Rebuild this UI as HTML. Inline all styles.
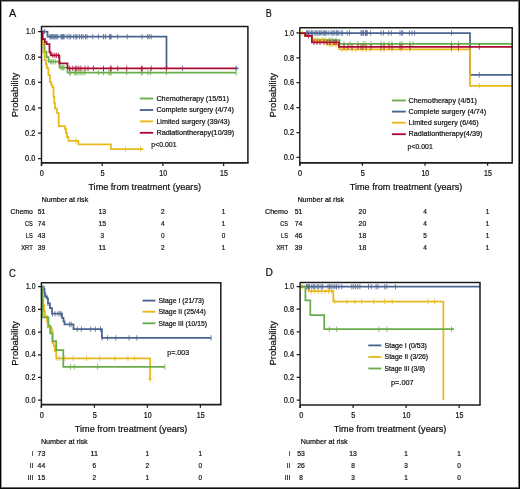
<!DOCTYPE html>
<html><head><meta charset="utf-8"><style>
html,body{margin:0;padding:0;background:#fff;}
svg{display:block;font-family:"Liberation Sans",sans-serif;will-change:transform;}
text{stroke:#111;stroke-width:0.22px;}
</style></head><body>
<svg width="520" height="489" viewBox="0 0 520 489">
<rect width="520" height="489" fill="#fff"/>
<rect x="1" y="0" width="1" height="489" fill="#9c9c9c"/>
<rect x="518" y="0" width="1" height="489" fill="#777"/>
<rect x="0" y="1" width="520" height="1" fill="#949494"/>
<rect x="0" y="487" width="520" height="1" fill="#6a6a6a"/>
<rect x="0" y="0" width="1" height="489" fill="#000"/>
<rect x="519" y="0" width="1" height="489" fill="#000"/>
<rect x="0" y="0" width="520" height="1" fill="#1f1f1f"/>
<rect x="0" y="488" width="520" height="1" fill="#0d0d0d"/>
<path d="M41.5,31.6H47.5V36.7H166.5V68.4M235.5,68.4H238.5" fill="none" stroke="#4a6491" stroke-width="1.75" stroke-linejoin="miter"/>
<path d="M44.5,28.90V34.30M49.8,34.00V39.40M50.8,34.00V39.40M51.8,34.00V39.40M52.8,34.00V39.40M53.8,34.00V39.40M54.8,34.00V39.40M55.8,34.00V39.40M56.8,34.00V39.40M57.8,34.00V39.40M61,34.00V39.40M61.8,34.00V39.40M62.6,34.00V39.40M63.4,34.00V39.40M64.2,34.00V39.40M67.1,34.00V39.40M69.1,34.00V39.40M70.7,34.00V39.40M73.7,34.00V39.40M75.8,34.00V39.40M76.8,34.00V39.40M79.4,34.00V39.40M81.4,34.00V39.40M83,34.00V39.40M85.5,34.00V39.40M87,34.00V39.40M92.8,34.00V39.40M98.4,34.00V39.40M103.5,34.00V39.40M105.4,34.00V39.40M109.5,34.00V39.40M110.3,34.00V39.40M111.1,34.00V39.40M117.7,34.00V39.40M127.2,34.00V39.40M141.9,34.00V39.40M147.6,34.00V39.40M149.2,34.00V39.40M151.2,34.00V39.40M182.5,65.70V71.10M236.2,65.70V71.10" stroke="#4a6491" stroke-width="0.8" fill="none"/>
<path d="M41.5,31.6H42.6V39.2H44.5V51.6H46.5V57H48.5V61.7H59.5V67.6H67.5V72.7H236.2" fill="none" stroke="#69ad4a" stroke-width="1.75" stroke-linejoin="miter"/>
<path d="M50.2,59.00V64.40M51.8,59.00V64.40M53.3,59.00V64.40M55.3,59.00V64.40M61,64.90V70.30M62,64.90V70.30M63,64.90V70.30M64,64.90V70.30M69.6,70.00V75.40M70.7,70.00V75.40M74.8,70.00V75.40M75.8,70.00V75.40M76.8,70.00V75.40M78.9,70.00V75.40M80.9,70.00V75.40M83,70.00V75.40M85,70.00V75.40M98.4,70.00V75.40M103.5,70.00V75.40M108.7,70.00V75.40M110.3,70.00V75.40M111.1,70.00V75.40M126.7,70.00V75.40M141.4,70.00V75.40M142.2,70.00V75.40M147.9,70.00V75.40M150.4,70.00V75.40M166.4,70.00V75.40M236.2,70.00V75.40" stroke="#69ad4a" stroke-width="0.8" fill="none"/>
<path d="M41.5,31.6H42.2V38H42.8V44H43.4V52.3H44.6V60H45.8V64H46.9V68H48.4V75H49.9V82H51.3V85H52.5V87H53.5V96.8H54.3V103H55V108.5H57V113H58.7V126.1H65V129H66V133H67V137H68.5V140.9H78.3V144.3H111V149H143.3" fill="none" stroke="#e8b919" stroke-width="1.75" stroke-linejoin="miter"/>
<path d="M76,138.20V143.60M125.6,146.30V151.70M140.6,146.30V151.70" stroke="#e8b919" stroke-width="0.8" fill="none"/>
<path d="M41.5,31.6H42.6V39.2H44.9V42.1H46.6V44.1H49.5V52.3H50.8V55.4H59.4V63.3H67.5V68.4H236.2" fill="none" stroke="#a90a31" stroke-width="1.75" stroke-linejoin="miter"/>
<path d="M52.8,52.70V58.10M54.8,52.70V58.10M56.4,52.70V58.10M58.4,52.70V58.10M69.7,65.70V71.10M72.7,65.70V71.10M75.3,65.70V71.10M76.8,65.70V71.10M78.9,65.70V71.10M80.9,65.70V71.10M85,65.70V71.10M88,65.70V71.10M93.5,65.70V71.10M103.5,65.70V71.10M110.3,65.70V71.10M111.1,65.70V71.10M117.7,65.70V71.10M126.7,65.70V71.10M141.4,65.70V71.10M142.2,65.70V71.10M151.2,65.70V71.10M166.4,65.70V71.10" stroke="#a90a31" stroke-width="0.8" fill="none"/>
<text x="8.9" y="17.2" font-size="11.8" text-anchor="start" fill="#111" textLength="7.2" lengthAdjust="spacingAndGlyphs">A</text>
<path d="M41.5,26.5H247.9V162.9" fill="none" stroke="#1c1c1c" stroke-width="1.5"/>
<path d="M41.5,25.9V165.9" fill="none" stroke="#1c1c1c" stroke-width="1.45"/>
<path d="M41.5,162.9H248.6" fill="none" stroke="#1c1c1c" stroke-width="1.7"/>
<text x="35.3" y="161.3" font-size="8.3" text-anchor="end" fill="#111" textLength="10.2" lengthAdjust="spacingAndGlyphs">0.0</text>
<text x="35.3" y="135.9" font-size="8.3" text-anchor="end" fill="#111" textLength="10.2" lengthAdjust="spacingAndGlyphs">0.2</text>
<text x="35.3" y="110.5" font-size="8.3" text-anchor="end" fill="#111" textLength="10.2" lengthAdjust="spacingAndGlyphs">0.4</text>
<text x="35.3" y="85.1" font-size="8.3" text-anchor="end" fill="#111" textLength="10.2" lengthAdjust="spacingAndGlyphs">0.6</text>
<text x="35.3" y="59.7" font-size="8.3" text-anchor="end" fill="#111" textLength="10.2" lengthAdjust="spacingAndGlyphs">0.8</text>
<text x="35.3" y="34.3" font-size="8.3" text-anchor="end" fill="#111" textLength="9.4" lengthAdjust="spacingAndGlyphs">1.0</text>
<text x="41.8" y="176.15" font-size="8.3" text-anchor="middle" fill="#111" textLength="4.1" lengthAdjust="spacingAndGlyphs">0</text>
<text x="102.5" y="176.15" font-size="8.3" text-anchor="middle" fill="#111" textLength="4.1" lengthAdjust="spacingAndGlyphs">5</text>
<text x="163.2" y="176.15" font-size="8.3" text-anchor="middle" fill="#111" textLength="7.8" lengthAdjust="spacingAndGlyphs">10</text>
<text x="223.9" y="176.15" font-size="8.3" text-anchor="middle" fill="#111" textLength="7.8" lengthAdjust="spacingAndGlyphs">15</text>
<path d="M38.1,158.60H41.5M38.1,133.20H41.5M38.1,107.80H41.5M38.1,82.40H41.5M38.1,57.00H41.5M38.1,31.60H41.5M41.50,162.9V165.9M102.20,162.9V165.9M162.90,162.9V165.9M223.60,162.9V165.9" stroke="#1c1c1c" stroke-width="1.25" fill="none"/>
<text transform="translate(18.0,95.1) rotate(-90)" font-size="9.6" text-anchor="middle" fill="#111" textLength="44.5" lengthAdjust="spacingAndGlyphs">Probability</text>
<text x="144.7" y="189.9" font-size="9.3" text-anchor="middle" fill="#111" textLength="112.6" lengthAdjust="spacingAndGlyphs">Time from treatment (years)</text>
<text x="41.5" y="202.2" font-size="7.6" text-anchor="start" fill="#111" textLength="46.8" lengthAdjust="spacingAndGlyphs">Number at risk</text>
<text x="32.8" y="214.0" font-size="7.6" text-anchor="end" fill="#111" textLength="22.2" lengthAdjust="spacingAndGlyphs">Chemo</text>
<text x="41.5" y="214.0" font-size="7.6" text-anchor="middle" fill="#111" textLength="7.6" lengthAdjust="spacingAndGlyphs">51</text>
<text x="102.2" y="214.0" font-size="7.6" text-anchor="middle" fill="#111" textLength="7.6" lengthAdjust="spacingAndGlyphs">13</text>
<text x="162.9" y="214.0" font-size="7.6" text-anchor="middle" fill="#111" textLength="3.6" lengthAdjust="spacingAndGlyphs">2</text>
<text x="223.6" y="214.0" font-size="7.6" text-anchor="middle" fill="#111" textLength="3.6" lengthAdjust="spacingAndGlyphs">1</text>
<text x="32.8" y="225.9" font-size="7.6" text-anchor="end" fill="#111" textLength="7.8" lengthAdjust="spacingAndGlyphs">CS</text>
<text x="41.5" y="225.9" font-size="7.6" text-anchor="middle" fill="#111" textLength="7.6" lengthAdjust="spacingAndGlyphs">74</text>
<text x="102.2" y="225.9" font-size="7.6" text-anchor="middle" fill="#111" textLength="7.6" lengthAdjust="spacingAndGlyphs">15</text>
<text x="162.9" y="225.9" font-size="7.6" text-anchor="middle" fill="#111" textLength="3.6" lengthAdjust="spacingAndGlyphs">4</text>
<text x="223.6" y="225.9" font-size="7.6" text-anchor="middle" fill="#111" textLength="3.6" lengthAdjust="spacingAndGlyphs">1</text>
<text x="32.8" y="237.9" font-size="7.6" text-anchor="end" fill="#111" textLength="7.0" lengthAdjust="spacingAndGlyphs">LS</text>
<text x="41.5" y="237.9" font-size="7.6" text-anchor="middle" fill="#111" textLength="7.6" lengthAdjust="spacingAndGlyphs">43</text>
<text x="102.2" y="237.9" font-size="7.6" text-anchor="middle" fill="#111" textLength="3.6" lengthAdjust="spacingAndGlyphs">3</text>
<text x="162.9" y="237.9" font-size="7.6" text-anchor="middle" fill="#111" textLength="3.6" lengthAdjust="spacingAndGlyphs">0</text>
<text x="223.6" y="237.9" font-size="7.6" text-anchor="middle" fill="#111" textLength="3.6" lengthAdjust="spacingAndGlyphs">0</text>
<text x="32.8" y="249.8" font-size="7.6" text-anchor="end" fill="#111" textLength="11.6" lengthAdjust="spacingAndGlyphs">XRT</text>
<text x="41.5" y="249.8" font-size="7.6" text-anchor="middle" fill="#111" textLength="7.6" lengthAdjust="spacingAndGlyphs">39</text>
<text x="102.2" y="249.8" font-size="7.6" text-anchor="middle" fill="#111" textLength="7.6" lengthAdjust="spacingAndGlyphs">11</text>
<text x="162.9" y="249.8" font-size="7.6" text-anchor="middle" fill="#111" textLength="3.6" lengthAdjust="spacingAndGlyphs">2</text>
<text x="223.6" y="249.8" font-size="7.6" text-anchor="middle" fill="#111" textLength="3.6" lengthAdjust="spacingAndGlyphs">1</text>
<path d="M139.8,98.5H153.2" stroke="#69ad4a" stroke-width="1.85"/>
<text x="156.4" y="100.7" font-size="7.6" text-anchor="start" fill="#111" textLength="72.4" lengthAdjust="spacingAndGlyphs">Chemotherapy (15/51)</text>
<path d="M139.8,110.0H153.2" stroke="#4a6491" stroke-width="1.85"/>
<text x="156.4" y="112.2" font-size="7.6" text-anchor="start" fill="#111" textLength="77.6" lengthAdjust="spacingAndGlyphs">Complete surgery (4/74)</text>
<path d="M139.8,121.4H153.2" stroke="#e8b919" stroke-width="1.85"/>
<text x="156.4" y="123.6" font-size="7.6" text-anchor="start" fill="#111" textLength="73.6" lengthAdjust="spacingAndGlyphs">Limited surgery (39/43)</text>
<path d="M139.8,132.8H153.2" stroke="#a90a31" stroke-width="1.85"/>
<text x="156.4" y="135.0" font-size="7.6" text-anchor="start" fill="#111" textLength="77.8" lengthAdjust="spacingAndGlyphs">Radiationtherapy(10/39)</text>
<text x="151.3" y="147.2" font-size="8.0" text-anchor="start" fill="#111" textLength="25.2" lengthAdjust="spacingAndGlyphs">p&lt;0.001</text>
<path d="M299.8,33.0H470V74.8H512.2" fill="none" stroke="#4a6491" stroke-width="1.75" stroke-linejoin="miter"/>
<path d="M306.5,30.30V35.70M307.5,30.30V35.70M308.8,30.30V35.70M310,30.30V35.70M311.5,30.30V35.70M312.6,30.30V35.70M314.2,30.30V35.70M315.7,30.30V35.70M316.8,30.30V35.70M318,30.30V35.70M319.5,30.30V35.70M320.8,30.30V35.70M321.8,30.30V35.70M323.4,30.30V35.70M324.5,30.30V35.70M325.7,30.30V35.70M326.9,30.30V35.70M328.8,30.30V35.70M331.1,30.30V35.70M332.2,30.30V35.70M333.7,30.30V35.70M334.9,30.30V35.70M336.5,30.30V35.70M337.7,30.30V35.70M338.8,30.30V35.70M341.1,30.30V35.70M342.6,30.30V35.70M347.2,30.30V35.70M349.5,30.30V35.70M361.8,30.30V35.70M363.4,30.30V35.70M365.7,30.30V35.70M366.9,30.30V35.70M361,30.30V35.70M362.8,30.30V35.70M365.4,30.30V35.70M366.2,30.30V35.70M367.1,30.30V35.70M370.6,30.30V35.70M381,30.30V35.70M383.5,30.30V35.70M388.7,30.30V35.70M391.3,30.30V35.70M400,30.30V35.70M401.7,30.30V35.70M402.6,30.30V35.70M409.5,30.30V35.70M412.1,30.30V35.70M414.7,30.30V35.70M451.5,30.30V35.70M479.3,72.10V77.50" stroke="#4a6491" stroke-width="0.8" fill="none"/>
<path d="M299.8,33.0H305.1V35.8H311.9V40.2H339.5V43.8H512.2" fill="none" stroke="#69ad4a" stroke-width="1.75" stroke-linejoin="miter"/>
<path d="M315,37.50V42.90M318,37.50V42.90M322,37.50V42.90M325,37.50V42.90M329,37.50V42.90M331,37.50V42.90M333,37.50V42.90M336,37.50V42.90M344,41.10V46.50M350,41.10V46.50M358,41.10V46.50M363,41.10V46.50M365,41.10V46.50M371,41.10V46.50M381,41.10V46.50M384,41.10V46.50M389,41.10V46.50M392,41.10V46.50M400,41.10V46.50M402,41.10V46.50M410,41.10V46.50M413,41.10V46.50M451.5,41.10V46.50M458.5,41.10V46.50" stroke="#69ad4a" stroke-width="0.8" fill="none"/>
<path d="M299.8,33.0H305.1V35.8H311.9V40.4H326.8V44.5H339.2V49.3H470V85.8H512.2" fill="none" stroke="#e8b919" stroke-width="1.75" stroke-linejoin="miter"/>
<path d="M302.4,30.30V35.70M314,37.70V43.10M317,37.70V43.10M320,37.70V43.10M323,37.70V43.10M326,37.70V43.10M330,41.80V47.20M333,41.80V47.20M336,41.80V47.20M342,46.60V52.00M346,46.60V52.00M352,46.60V52.00M356,46.60V52.00M362,46.60V52.00M366,46.60V52.00M370,46.60V52.00M381,46.60V52.00M384,46.60V52.00M392,46.60V52.00M401,46.60V52.00M410,46.60V52.00M451.5,46.60V52.00M458.5,46.60V52.00M479.3,83.10V88.50" stroke="#e8b919" stroke-width="0.8" fill="none"/>
<path d="M299.8,33.0H305.1V35.8H311.9V42.3H339.0V46.9H512.2" fill="none" stroke="#a90a31" stroke-width="1.75" stroke-linejoin="miter"/>
<path d="M308.5,33.10V38.50M314,39.60V45.00M317,39.60V45.00M320,39.60V45.00M324,39.60V45.00M327,39.60V45.00M330,39.60V45.00M334,39.60V45.00M336,39.60V45.00M344,44.20V49.60M348,44.20V49.60M352,44.20V49.60M358,44.20V49.60M361,44.20V49.60M363,44.20V49.60M366,44.20V49.60M371,44.20V49.60M381,44.20V49.60M384,44.20V49.60M389,44.20V49.60M392,44.20V49.60M400,44.20V49.60M402,44.20V49.60M410,44.20V49.60M451.5,44.20V49.60M458.5,44.20V49.60M479.3,44.20V49.60" stroke="#a90a31" stroke-width="0.8" fill="none"/>
<text x="265.8" y="17.2" font-size="11.8" text-anchor="start" fill="#111" textLength="6.0" lengthAdjust="spacingAndGlyphs">B</text>
<path d="M299.8,27.8H512.2V162.8" fill="none" stroke="#1c1c1c" stroke-width="1.5"/>
<path d="M299.8,27.2V165.8" fill="none" stroke="#1c1c1c" stroke-width="1.45"/>
<path d="M299.8,162.8H512.9000000000001" fill="none" stroke="#1c1c1c" stroke-width="1.7"/>
<text x="294.0" y="160.1" font-size="8.3" text-anchor="end" fill="#111" textLength="10.2" lengthAdjust="spacingAndGlyphs">0.0</text>
<text x="294.0" y="135.2" font-size="8.3" text-anchor="end" fill="#111" textLength="10.2" lengthAdjust="spacingAndGlyphs">0.2</text>
<text x="294.0" y="110.3" font-size="8.3" text-anchor="end" fill="#111" textLength="10.2" lengthAdjust="spacingAndGlyphs">0.4</text>
<text x="294.0" y="85.4" font-size="8.3" text-anchor="end" fill="#111" textLength="10.2" lengthAdjust="spacingAndGlyphs">0.6</text>
<text x="294.0" y="60.5" font-size="8.3" text-anchor="end" fill="#111" textLength="10.2" lengthAdjust="spacingAndGlyphs">0.8</text>
<text x="294.0" y="35.6" font-size="8.3" text-anchor="end" fill="#111" textLength="9.4" lengthAdjust="spacingAndGlyphs">1.0</text>
<text x="300.1" y="176.05" font-size="8.3" text-anchor="middle" fill="#111" textLength="4.1" lengthAdjust="spacingAndGlyphs">0</text>
<text x="362.7" y="176.05" font-size="8.3" text-anchor="middle" fill="#111" textLength="4.1" lengthAdjust="spacingAndGlyphs">5</text>
<text x="425.3" y="176.05" font-size="8.3" text-anchor="middle" fill="#111" textLength="7.8" lengthAdjust="spacingAndGlyphs">10</text>
<text x="487.9" y="176.05" font-size="8.3" text-anchor="middle" fill="#111" textLength="7.8" lengthAdjust="spacingAndGlyphs">15</text>
<path d="M296.40000000000003,157.40H299.8M296.40000000000003,132.50H299.8M296.40000000000003,107.60H299.8M296.40000000000003,82.70H299.8M296.40000000000003,57.80H299.8M296.40000000000003,32.90H299.8M299.80,162.8V165.8M362.40,162.8V165.8M425.00,162.8V165.8M487.60,162.8V165.8" stroke="#1c1c1c" stroke-width="1.25" fill="none"/>
<text transform="translate(276.3,95.2) rotate(-90)" font-size="9.6" text-anchor="middle" fill="#111" textLength="44.5" lengthAdjust="spacingAndGlyphs">Probability</text>
<text x="406.0" y="189.8" font-size="9.3" text-anchor="middle" fill="#111" textLength="112.6" lengthAdjust="spacingAndGlyphs">Time from treatment (years)</text>
<text x="297.4" y="202.2" font-size="7.6" text-anchor="start" fill="#111" textLength="46.8" lengthAdjust="spacingAndGlyphs">Number at risk</text>
<text x="288.0" y="214.4" font-size="7.6" text-anchor="end" fill="#111" textLength="23.0" lengthAdjust="spacingAndGlyphs">Chemo</text>
<text x="298.6" y="214.4" font-size="7.6" text-anchor="middle" fill="#111" textLength="7.6" lengthAdjust="spacingAndGlyphs">51</text>
<text x="362.4" y="214.4" font-size="7.6" text-anchor="middle" fill="#111" textLength="7.6" lengthAdjust="spacingAndGlyphs">20</text>
<text x="425.0" y="214.4" font-size="7.6" text-anchor="middle" fill="#111" textLength="3.6" lengthAdjust="spacingAndGlyphs">4</text>
<text x="487.6" y="214.4" font-size="7.6" text-anchor="middle" fill="#111" textLength="3.6" lengthAdjust="spacingAndGlyphs">1</text>
<text x="288.0" y="226.3" font-size="7.6" text-anchor="end" fill="#111" textLength="7.8" lengthAdjust="spacingAndGlyphs">CS</text>
<text x="298.6" y="226.3" font-size="7.6" text-anchor="middle" fill="#111" textLength="7.6" lengthAdjust="spacingAndGlyphs">74</text>
<text x="362.4" y="226.3" font-size="7.6" text-anchor="middle" fill="#111" textLength="7.6" lengthAdjust="spacingAndGlyphs">20</text>
<text x="425.0" y="226.3" font-size="7.6" text-anchor="middle" fill="#111" textLength="3.6" lengthAdjust="spacingAndGlyphs">4</text>
<text x="487.6" y="226.3" font-size="7.6" text-anchor="middle" fill="#111" textLength="3.6" lengthAdjust="spacingAndGlyphs">1</text>
<text x="288.0" y="238.3" font-size="7.6" text-anchor="end" fill="#111" textLength="7.0" lengthAdjust="spacingAndGlyphs">LS</text>
<text x="298.6" y="238.3" font-size="7.6" text-anchor="middle" fill="#111" textLength="7.6" lengthAdjust="spacingAndGlyphs">46</text>
<text x="362.4" y="238.3" font-size="7.6" text-anchor="middle" fill="#111" textLength="7.6" lengthAdjust="spacingAndGlyphs">18</text>
<text x="425.0" y="238.3" font-size="7.6" text-anchor="middle" fill="#111" textLength="3.6" lengthAdjust="spacingAndGlyphs">5</text>
<text x="487.6" y="238.3" font-size="7.6" text-anchor="middle" fill="#111" textLength="3.6" lengthAdjust="spacingAndGlyphs">1</text>
<text x="288.0" y="250.2" font-size="7.6" text-anchor="end" fill="#111" textLength="11.6" lengthAdjust="spacingAndGlyphs">XRT</text>
<text x="298.6" y="250.2" font-size="7.6" text-anchor="middle" fill="#111" textLength="7.6" lengthAdjust="spacingAndGlyphs">39</text>
<text x="362.4" y="250.2" font-size="7.6" text-anchor="middle" fill="#111" textLength="7.6" lengthAdjust="spacingAndGlyphs">18</text>
<text x="425.0" y="250.2" font-size="7.6" text-anchor="middle" fill="#111" textLength="3.6" lengthAdjust="spacingAndGlyphs">4</text>
<text x="487.6" y="250.2" font-size="7.6" text-anchor="middle" fill="#111" textLength="3.6" lengthAdjust="spacingAndGlyphs">1</text>
<path d="M391.9,100.5H405.8" stroke="#69ad4a" stroke-width="1.85"/>
<text x="408.6" y="102.7" font-size="7.6" text-anchor="start" fill="#111" textLength="68.3" lengthAdjust="spacingAndGlyphs">Chemotherapy (4/51)</text>
<path d="M391.9,111.6H405.8" stroke="#4a6491" stroke-width="1.85"/>
<text x="408.6" y="113.8" font-size="7.6" text-anchor="start" fill="#111" textLength="77.6" lengthAdjust="spacingAndGlyphs">Complete surgery (4/74)</text>
<path d="M391.9,122.7H405.8" stroke="#e8b919" stroke-width="1.85"/>
<text x="408.6" y="124.9" font-size="7.6" text-anchor="start" fill="#111" textLength="70.0" lengthAdjust="spacingAndGlyphs">Limited surgery (6/46)</text>
<path d="M391.9,134.2H405.8" stroke="#a90a31" stroke-width="1.85"/>
<text x="408.6" y="136.4" font-size="7.6" text-anchor="start" fill="#111" textLength="73.8" lengthAdjust="spacingAndGlyphs">Radiationtherapy(4/39)</text>
<text x="407.6" y="148.5" font-size="8.0" text-anchor="start" fill="#111" textLength="25.2" lengthAdjust="spacingAndGlyphs">p&lt;0.001</text>
<path d="M41.4,286.7H43.5V289H44.5V293H45V296.3H47V298.3H48V303.4H50V308H52V313.7H62V317.8H63.5V321.3H64.5V324.4H73.5V329.2H101.9V337.9H211.1" fill="none" stroke="#4a6491" stroke-width="1.75" stroke-linejoin="miter"/>
<path d="M44,286.30V291.70M46,293.60V299.00M48,300.70V306.10M52.5,311.00V316.40M55,311.00V316.40M58,311.00V316.40M60,311.00V316.40M61,311.00V316.40M69.7,321.70V327.10M71.2,321.70V327.10M77.3,326.50V331.90M81.4,326.50V331.90M90.7,326.50V331.90M95.3,326.50V331.90M100.5,326.50V331.90M102.2,335.20V340.60M107.6,335.20V340.60M115.8,335.20V340.60M129.1,335.20V340.60M136.8,335.20V340.60M211.1,335.20V340.60" stroke="#4a6491" stroke-width="0.8" fill="none"/>
<path d="M41.4,286.7H42.5V298H43.3V305H44V311H45V316.2H47V321H47.8V327.3H51.6V331H52.5V342.8H53.6V345.8H54.9V351H56.2V358.3H150.1V378.9H150.1" fill="none" stroke="#e8b919" stroke-width="1.75" stroke-linejoin="miter"/>
<path d="M47.2,318.30V323.70M51.9,328.30V333.70M57,355.60V361.00M59.6,355.60V361.00M65,355.60V361.00M73.2,355.60V361.00M86.5,355.60V361.00M99.6,355.60V361.00M114.8,355.60V361.00M127.9,355.60V361.00M134.4,355.60V361.00" stroke="#e8b919" stroke-width="0.8" fill="none"/>
<path d="M150.1,376.2V381.8M147.6,379.0H152.6" stroke="#e8b919" stroke-width="0.9"/>
<path d="M41.4,286.7H42.6V317.3H48.4V325.6H50.2V333.3H52.5V341.0H56.2V350.2H63.3V366.8H164.8" fill="none" stroke="#69ad4a" stroke-width="1.75" stroke-linejoin="miter"/>
<path d="M70.5,364.10V369.50M74.3,364.10V369.50M97.6,364.10V369.50M164.8,364.10V369.50" stroke="#69ad4a" stroke-width="0.8" fill="none"/>
<text x="9.0" y="276.6" font-size="11.8" text-anchor="start" fill="#111" textLength="6.8" lengthAdjust="spacingAndGlyphs">C</text>
<path d="M41.4,282.7H220.8V404.7" fill="none" stroke="#1c1c1c" stroke-width="1.5"/>
<path d="M41.4,282.09999999999997V407.7" fill="none" stroke="#1c1c1c" stroke-width="1.45"/>
<path d="M41.4,404.7H221.5" fill="none" stroke="#1c1c1c" stroke-width="1.7"/>
<text x="35.5" y="402.9" font-size="8.3" text-anchor="end" fill="#111" textLength="10.2" lengthAdjust="spacingAndGlyphs">0.0</text>
<text x="35.5" y="380.18" font-size="8.3" text-anchor="end" fill="#111" textLength="10.2" lengthAdjust="spacingAndGlyphs">0.2</text>
<text x="35.5" y="357.46" font-size="8.3" text-anchor="end" fill="#111" textLength="10.2" lengthAdjust="spacingAndGlyphs">0.4</text>
<text x="35.5" y="334.74" font-size="8.3" text-anchor="end" fill="#111" textLength="10.2" lengthAdjust="spacingAndGlyphs">0.6</text>
<text x="35.5" y="312.02" font-size="8.3" text-anchor="end" fill="#111" textLength="10.2" lengthAdjust="spacingAndGlyphs">0.8</text>
<text x="35.5" y="289.3" font-size="8.3" text-anchor="end" fill="#111" textLength="9.4" lengthAdjust="spacingAndGlyphs">1.0</text>
<text x="41.7" y="417.95" font-size="8.3" text-anchor="middle" fill="#111" textLength="4.1" lengthAdjust="spacingAndGlyphs">0</text>
<text x="94.7" y="417.95" font-size="8.3" text-anchor="middle" fill="#111" textLength="4.1" lengthAdjust="spacingAndGlyphs">5</text>
<text x="147.7" y="417.95" font-size="8.3" text-anchor="middle" fill="#111" textLength="7.8" lengthAdjust="spacingAndGlyphs">10</text>
<text x="200.7" y="417.95" font-size="8.3" text-anchor="middle" fill="#111" textLength="7.8" lengthAdjust="spacingAndGlyphs">15</text>
<path d="M38.0,400.20H41.4M38.0,377.48H41.4M38.0,354.76H41.4M38.0,332.04H41.4M38.0,309.32H41.4M38.0,286.60H41.4M41.40,404.7V407.7M94.40,404.7V407.7M147.40,404.7V407.7M200.40,404.7V407.7" stroke="#1c1c1c" stroke-width="1.25" fill="none"/>
<text transform="translate(18.0,343.4) rotate(-90)" font-size="9.6" text-anchor="middle" fill="#111" textLength="44.5" lengthAdjust="spacingAndGlyphs">Probability</text>
<text x="131.1" y="431.7" font-size="9.3" text-anchor="middle" fill="#111" textLength="112.6" lengthAdjust="spacingAndGlyphs">Time from treatment (years)</text>
<text x="40.9" y="444.0" font-size="7.6" text-anchor="start" fill="#111" textLength="46.8" lengthAdjust="spacingAndGlyphs">Number at risk</text>
<text x="33.3" y="456.1" font-size="7.6" text-anchor="end" fill="#111" textLength="1.6" lengthAdjust="spacingAndGlyphs">I</text>
<text x="41.4" y="456.1" font-size="7.6" text-anchor="middle" fill="#111" textLength="7.6" lengthAdjust="spacingAndGlyphs">73</text>
<text x="94.4" y="456.1" font-size="7.6" text-anchor="middle" fill="#111" textLength="7.6" lengthAdjust="spacingAndGlyphs">11</text>
<text x="147.4" y="456.1" font-size="7.6" text-anchor="middle" fill="#111" textLength="3.6" lengthAdjust="spacingAndGlyphs">1</text>
<text x="200.4" y="456.1" font-size="7.6" text-anchor="middle" fill="#111" textLength="3.6" lengthAdjust="spacingAndGlyphs">1</text>
<text x="33.3" y="467.9" font-size="7.6" text-anchor="end" fill="#111" textLength="3.6" lengthAdjust="spacingAndGlyphs">II</text>
<text x="41.4" y="467.9" font-size="7.6" text-anchor="middle" fill="#111" textLength="7.6" lengthAdjust="spacingAndGlyphs">44</text>
<text x="94.4" y="467.9" font-size="7.6" text-anchor="middle" fill="#111" textLength="3.6" lengthAdjust="spacingAndGlyphs">6</text>
<text x="147.4" y="467.9" font-size="7.6" text-anchor="middle" fill="#111" textLength="3.6" lengthAdjust="spacingAndGlyphs">2</text>
<text x="200.4" y="467.9" font-size="7.6" text-anchor="middle" fill="#111" textLength="3.6" lengthAdjust="spacingAndGlyphs">0</text>
<text x="33.3" y="479.7" font-size="7.6" text-anchor="end" fill="#111" textLength="5.6" lengthAdjust="spacingAndGlyphs">III</text>
<text x="41.4" y="479.7" font-size="7.6" text-anchor="middle" fill="#111" textLength="7.6" lengthAdjust="spacingAndGlyphs">15</text>
<text x="94.4" y="479.7" font-size="7.6" text-anchor="middle" fill="#111" textLength="3.6" lengthAdjust="spacingAndGlyphs">2</text>
<text x="147.4" y="479.7" font-size="7.6" text-anchor="middle" fill="#111" textLength="3.6" lengthAdjust="spacingAndGlyphs">1</text>
<text x="200.4" y="479.7" font-size="7.6" text-anchor="middle" fill="#111" textLength="3.6" lengthAdjust="spacingAndGlyphs">0</text>
<path d="M142.5,300.6H155.4" stroke="#4a6491" stroke-width="1.85"/>
<text x="158.5" y="302.8" font-size="7.6" text-anchor="start" fill="#111" textLength="45.6" lengthAdjust="spacingAndGlyphs">Stage I (21/73)</text>
<path d="M142.5,311.7H155.4" stroke="#e8b919" stroke-width="1.85"/>
<text x="158.5" y="313.9" font-size="7.6" text-anchor="start" fill="#111" textLength="47.4" lengthAdjust="spacingAndGlyphs">Stage II (25/44)</text>
<path d="M142.5,323.3H155.4" stroke="#69ad4a" stroke-width="1.85"/>
<text x="158.5" y="325.5" font-size="7.6" text-anchor="start" fill="#111" textLength="48.4" lengthAdjust="spacingAndGlyphs">Stage III (10/15)</text>
<text x="167.2" y="355.4" font-size="8.0" text-anchor="start" fill="#111" textLength="21.9" lengthAdjust="spacingAndGlyphs">p=.003</text>
<path d="M300.1,286.7H308.6V291.2H333.3V301.5H443.4V400.1H443.4" fill="none" stroke="#e8b919" stroke-width="1.75" stroke-linejoin="miter"/>
<path d="M302.5,284.00V289.40M311.3,288.50V293.90M314.7,288.50V293.90M318.2,288.50V293.90M321.7,288.50V293.90M325.1,288.50V293.90M328.5,288.50V293.90M331.5,288.50V293.90M334.8,298.80V304.20M347,298.80V304.20M355,298.80V304.20M361.8,298.80V304.20M373.9,298.80V304.20M384.7,298.80V304.20M392.2,298.80V304.20M427.8,298.80V304.20M434.6,298.80V304.20" stroke="#e8b919" stroke-width="0.8" fill="none"/>
<path d="M300.1,286.7H480.0" fill="none" stroke="#4a6491" stroke-width="1.75" stroke-linejoin="miter"/>
<path d="M306.5,284.00V289.40M307.2,284.00V289.40M308.5,284.00V289.40M309.5,284.00V289.40M311.8,284.00V289.40M313.4,284.00V289.40M314.9,284.00V289.40M317.2,284.00V289.40M318.8,284.00V289.40M321.1,284.00V289.40M322.6,284.00V289.40M328,284.00V289.40M329.5,284.00V289.40M331.1,284.00V289.40M333.1,284.00V289.40M334.9,284.00V289.40M336.5,284.00V289.40M338.8,284.00V289.40M341.8,284.00V289.40M351.8,284.00V289.40M353.7,284.00V289.40M355.6,284.00V289.40M357.7,284.00V289.40M359.9,284.00V289.40M368.5,284.00V289.40M371.2,284.00V289.40M376.1,284.00V289.40M378,284.00V289.40M384.7,284.00V289.40M386.8,284.00V289.40M395.5,284.00V289.40" stroke="#4a6491" stroke-width="0.8" fill="none"/>
<path d="M300.1,286.7H305.4V300.4H310.3V315.1H324.2V329.2H454.0" fill="none" stroke="#69ad4a" stroke-width="1.75" stroke-linejoin="miter"/>
<path d="M329.4,326.50V331.90M336.7,326.50V331.90M378.8,326.50V331.90M386.8,326.50V331.90M451.5,326.50V331.90" stroke="#69ad4a" stroke-width="0.8" fill="none"/>
<text x="265.4" y="276.4" font-size="11.8" text-anchor="start" fill="#111" textLength="7.4" lengthAdjust="spacingAndGlyphs">D</text>
<path d="M300.1,282.6H480.0V405.0" fill="none" stroke="#1c1c1c" stroke-width="1.5"/>
<path d="M300.1,282.0V408.0" fill="none" stroke="#1c1c1c" stroke-width="1.45"/>
<path d="M300.1,405.0H480.7" fill="none" stroke="#1c1c1c" stroke-width="1.7"/>
<text x="294.0" y="402.8" font-size="8.3" text-anchor="end" fill="#111" textLength="10.2" lengthAdjust="spacingAndGlyphs">0.0</text>
<text x="294.0" y="380.08" font-size="8.3" text-anchor="end" fill="#111" textLength="10.2" lengthAdjust="spacingAndGlyphs">0.2</text>
<text x="294.0" y="357.36" font-size="8.3" text-anchor="end" fill="#111" textLength="10.2" lengthAdjust="spacingAndGlyphs">0.4</text>
<text x="294.0" y="334.64" font-size="8.3" text-anchor="end" fill="#111" textLength="10.2" lengthAdjust="spacingAndGlyphs">0.6</text>
<text x="294.0" y="311.92" font-size="8.3" text-anchor="end" fill="#111" textLength="10.2" lengthAdjust="spacingAndGlyphs">0.8</text>
<text x="294.0" y="289.2" font-size="8.3" text-anchor="end" fill="#111" textLength="9.4" lengthAdjust="spacingAndGlyphs">1.0</text>
<text x="301.3" y="418.25" font-size="8.3" text-anchor="middle" fill="#111" textLength="4.1" lengthAdjust="spacingAndGlyphs">0</text>
<text x="353.4" y="418.25" font-size="8.3" text-anchor="middle" fill="#111" textLength="4.1" lengthAdjust="spacingAndGlyphs">5</text>
<text x="406.4" y="418.25" font-size="8.3" text-anchor="middle" fill="#111" textLength="7.8" lengthAdjust="spacingAndGlyphs">10</text>
<text x="459.4" y="418.25" font-size="8.3" text-anchor="middle" fill="#111" textLength="7.8" lengthAdjust="spacingAndGlyphs">15</text>
<path d="M296.70000000000005,400.10H300.1M296.70000000000005,377.38H300.1M296.70000000000005,354.66H300.1M296.70000000000005,331.94H300.1M296.70000000000005,309.22H300.1M296.70000000000005,286.50H300.1M300.10,405.0V408.0M353.10,405.0V408.0M406.10,405.0V408.0M459.10,405.0V408.0" stroke="#1c1c1c" stroke-width="1.25" fill="none"/>
<text transform="translate(276.3,343.3) rotate(-90)" font-size="9.6" text-anchor="middle" fill="#111" textLength="44.5" lengthAdjust="spacingAndGlyphs">Probability</text>
<text x="390.1" y="432.0" font-size="9.3" text-anchor="middle" fill="#111" textLength="112.6" lengthAdjust="spacingAndGlyphs">Time from treatment (years)</text>
<text x="300.8" y="444.0" font-size="7.6" text-anchor="start" fill="#111" textLength="46.8" lengthAdjust="spacingAndGlyphs">Number at risk</text>
<text x="290.3" y="456.0" font-size="7.6" text-anchor="end" fill="#111" textLength="1.6" lengthAdjust="spacingAndGlyphs">I</text>
<text x="301.1" y="456.0" font-size="7.6" text-anchor="middle" fill="#111" textLength="7.6" lengthAdjust="spacingAndGlyphs">53</text>
<text x="353.1" y="456.0" font-size="7.6" text-anchor="middle" fill="#111" textLength="7.6" lengthAdjust="spacingAndGlyphs">13</text>
<text x="406.1" y="456.0" font-size="7.6" text-anchor="middle" fill="#111" textLength="3.6" lengthAdjust="spacingAndGlyphs">1</text>
<text x="459.1" y="456.0" font-size="7.6" text-anchor="middle" fill="#111" textLength="3.6" lengthAdjust="spacingAndGlyphs">1</text>
<text x="290.3" y="467.9" font-size="7.6" text-anchor="end" fill="#111" textLength="3.6" lengthAdjust="spacingAndGlyphs">II</text>
<text x="301.1" y="467.9" font-size="7.6" text-anchor="middle" fill="#111" textLength="7.6" lengthAdjust="spacingAndGlyphs">26</text>
<text x="353.1" y="467.9" font-size="7.6" text-anchor="middle" fill="#111" textLength="3.6" lengthAdjust="spacingAndGlyphs">8</text>
<text x="406.1" y="467.9" font-size="7.6" text-anchor="middle" fill="#111" textLength="3.6" lengthAdjust="spacingAndGlyphs">3</text>
<text x="459.1" y="467.9" font-size="7.6" text-anchor="middle" fill="#111" textLength="3.6" lengthAdjust="spacingAndGlyphs">0</text>
<text x="290.3" y="479.7" font-size="7.6" text-anchor="end" fill="#111" textLength="5.6" lengthAdjust="spacingAndGlyphs">III</text>
<text x="301.1" y="479.7" font-size="7.6" text-anchor="middle" fill="#111" textLength="3.6" lengthAdjust="spacingAndGlyphs">8</text>
<text x="353.1" y="479.7" font-size="7.6" text-anchor="middle" fill="#111" textLength="3.6" lengthAdjust="spacingAndGlyphs">3</text>
<text x="406.1" y="479.7" font-size="7.6" text-anchor="middle" fill="#111" textLength="3.6" lengthAdjust="spacingAndGlyphs">1</text>
<text x="459.1" y="479.7" font-size="7.6" text-anchor="middle" fill="#111" textLength="3.6" lengthAdjust="spacingAndGlyphs">0</text>
<path d="M368.3,345.4H381.3" stroke="#4a6491" stroke-width="1.85"/>
<text x="384.6" y="347.6" font-size="7.6" text-anchor="start" fill="#111" textLength="42.3" lengthAdjust="spacingAndGlyphs">Stage I (0/53)</text>
<path d="M368.3,356.9H381.3" stroke="#e8b919" stroke-width="1.85"/>
<text x="384.6" y="359.1" font-size="7.6" text-anchor="start" fill="#111" textLength="43.5" lengthAdjust="spacingAndGlyphs">Stage II (3/26)</text>
<path d="M368.3,368.5H381.3" stroke="#69ad4a" stroke-width="1.85"/>
<text x="384.6" y="370.7" font-size="7.6" text-anchor="start" fill="#111" textLength="40.5" lengthAdjust="spacingAndGlyphs">Stage III (3/8)</text>
<text x="391.0" y="385.3" font-size="8.0" text-anchor="start" fill="#111" textLength="22.6" lengthAdjust="spacingAndGlyphs">p=.007</text>
</svg>
</body></html>
